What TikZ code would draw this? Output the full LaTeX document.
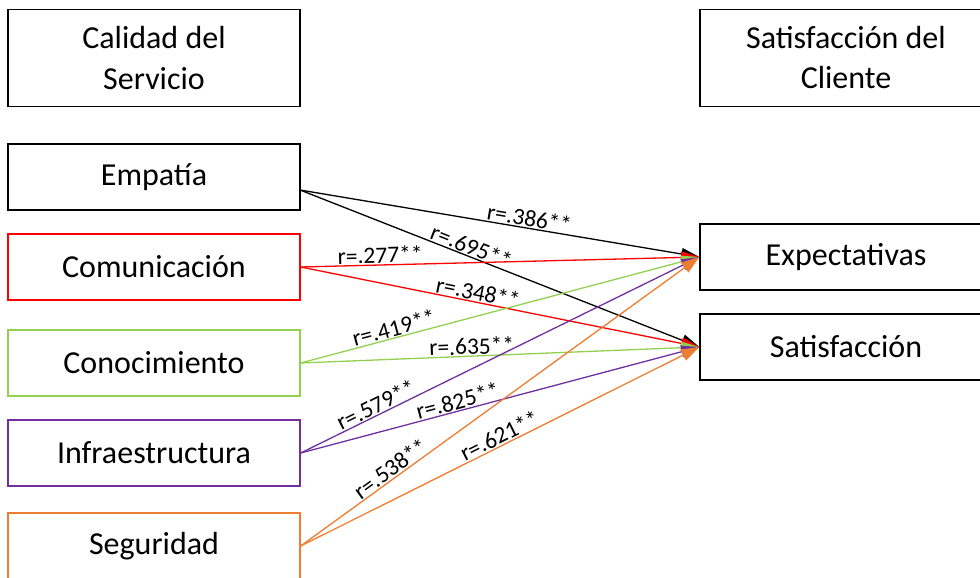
\documentclass[tikz,border=0pt]{standalone}
\usepackage{fontspec}
\setmainfont{Carlito}
\usetikzlibrary{arrows.meta}
\definecolor{cred}{HTML}{FF0000}
\definecolor{cgreen}{HTML}{92D050}
\definecolor{cpurple}{HTML}{7030A0}
\definecolor{corange}{HTML}{ED7D31}
\begin{document}
\begin{tikzpicture}[x=1pt,y=-1pt,
  box/.style={draw, line width=1.3pt, minimum width=292pt, minimum height=66pt, inner sep=0pt, font=\fontsize{32}{40}\selectfont, align=center},
  bigbox/.style={box, minimum height=97pt},
  rbox/.style={box, minimum width=300pt},
  rel/.style={line width=1.3pt, -{Triangle[length=18pt,width=12pt]}},
  lab/.style={sloped, above, inner sep=1pt, font=\fontsize{23.5}{26}\selectfont, text=black}]
\useasboundingbox (0,0) rectangle (980,578);
\node[bigbox] (cal) at (154,58) {Calidad del\\Servicio};
\node[bigbox, minimum width=300pt] (sat) at (850,58) {\hspace*{-8pt}Satisfacción del\\\hspace*{-8pt}Cliente};
\node[box] (emp) at (154,177) {Empatía};
\node[box, draw=cred] (com) at (154,267) {Comunicación};
\node[box, draw=cgreen] (con) at (154,363) {Conocimiento};
\node[box, draw=cpurple] (inf) at (154,453) {Infraestructura};
\node[box, draw=corange] (seg) at (154,546) {Seguridad};
\node[rbox] (exp) at (850,257) {\hspace*{-8pt}Expectativas};
\node[rbox] (sfc) at (850,347) {\hspace*{-8pt}Satisfacción};
\coordinate (empo) at (300,190);
\draw[rel] (empo) -- node[lab, pos=0.57] {r=.386**} (exp.west);
\draw[rel] (empo) -- node[lab, pos=0.42] {r=.695**} (sfc.west);
\draw[rel, cred] (com.east) -- node[lab, pos=0.2] {r=.277**} (exp.west);
\draw[rel, cred] (com.east) -- node[lab, pos=0.44] {r=.348**} (sfc.west);
\draw[rel, cgreen] (con.east) -- node[lab, pos=0.24] {r=.419**} (exp.west);
\draw[rel, cgreen] (con.east) -- node[lab, pos=0.43] {r=.635**} (sfc.west);
\draw[rel, cpurple] (inf.east) -- node[lab, pos=0.2] {r=.579**} (exp.west);
\draw[rel, cpurple] (inf.east) -- node[lab, pos=0.4] {r=.825**} (sfc.west);
\draw[rel, corange] (seg.east) -- node[lab, pos=0.24] {r=.538**} (exp.west);
\draw[rel, corange] (seg.east) -- node[lab, pos=0.51] {r=.621**} (sfc.west);
\end{tikzpicture}
\end{document}
